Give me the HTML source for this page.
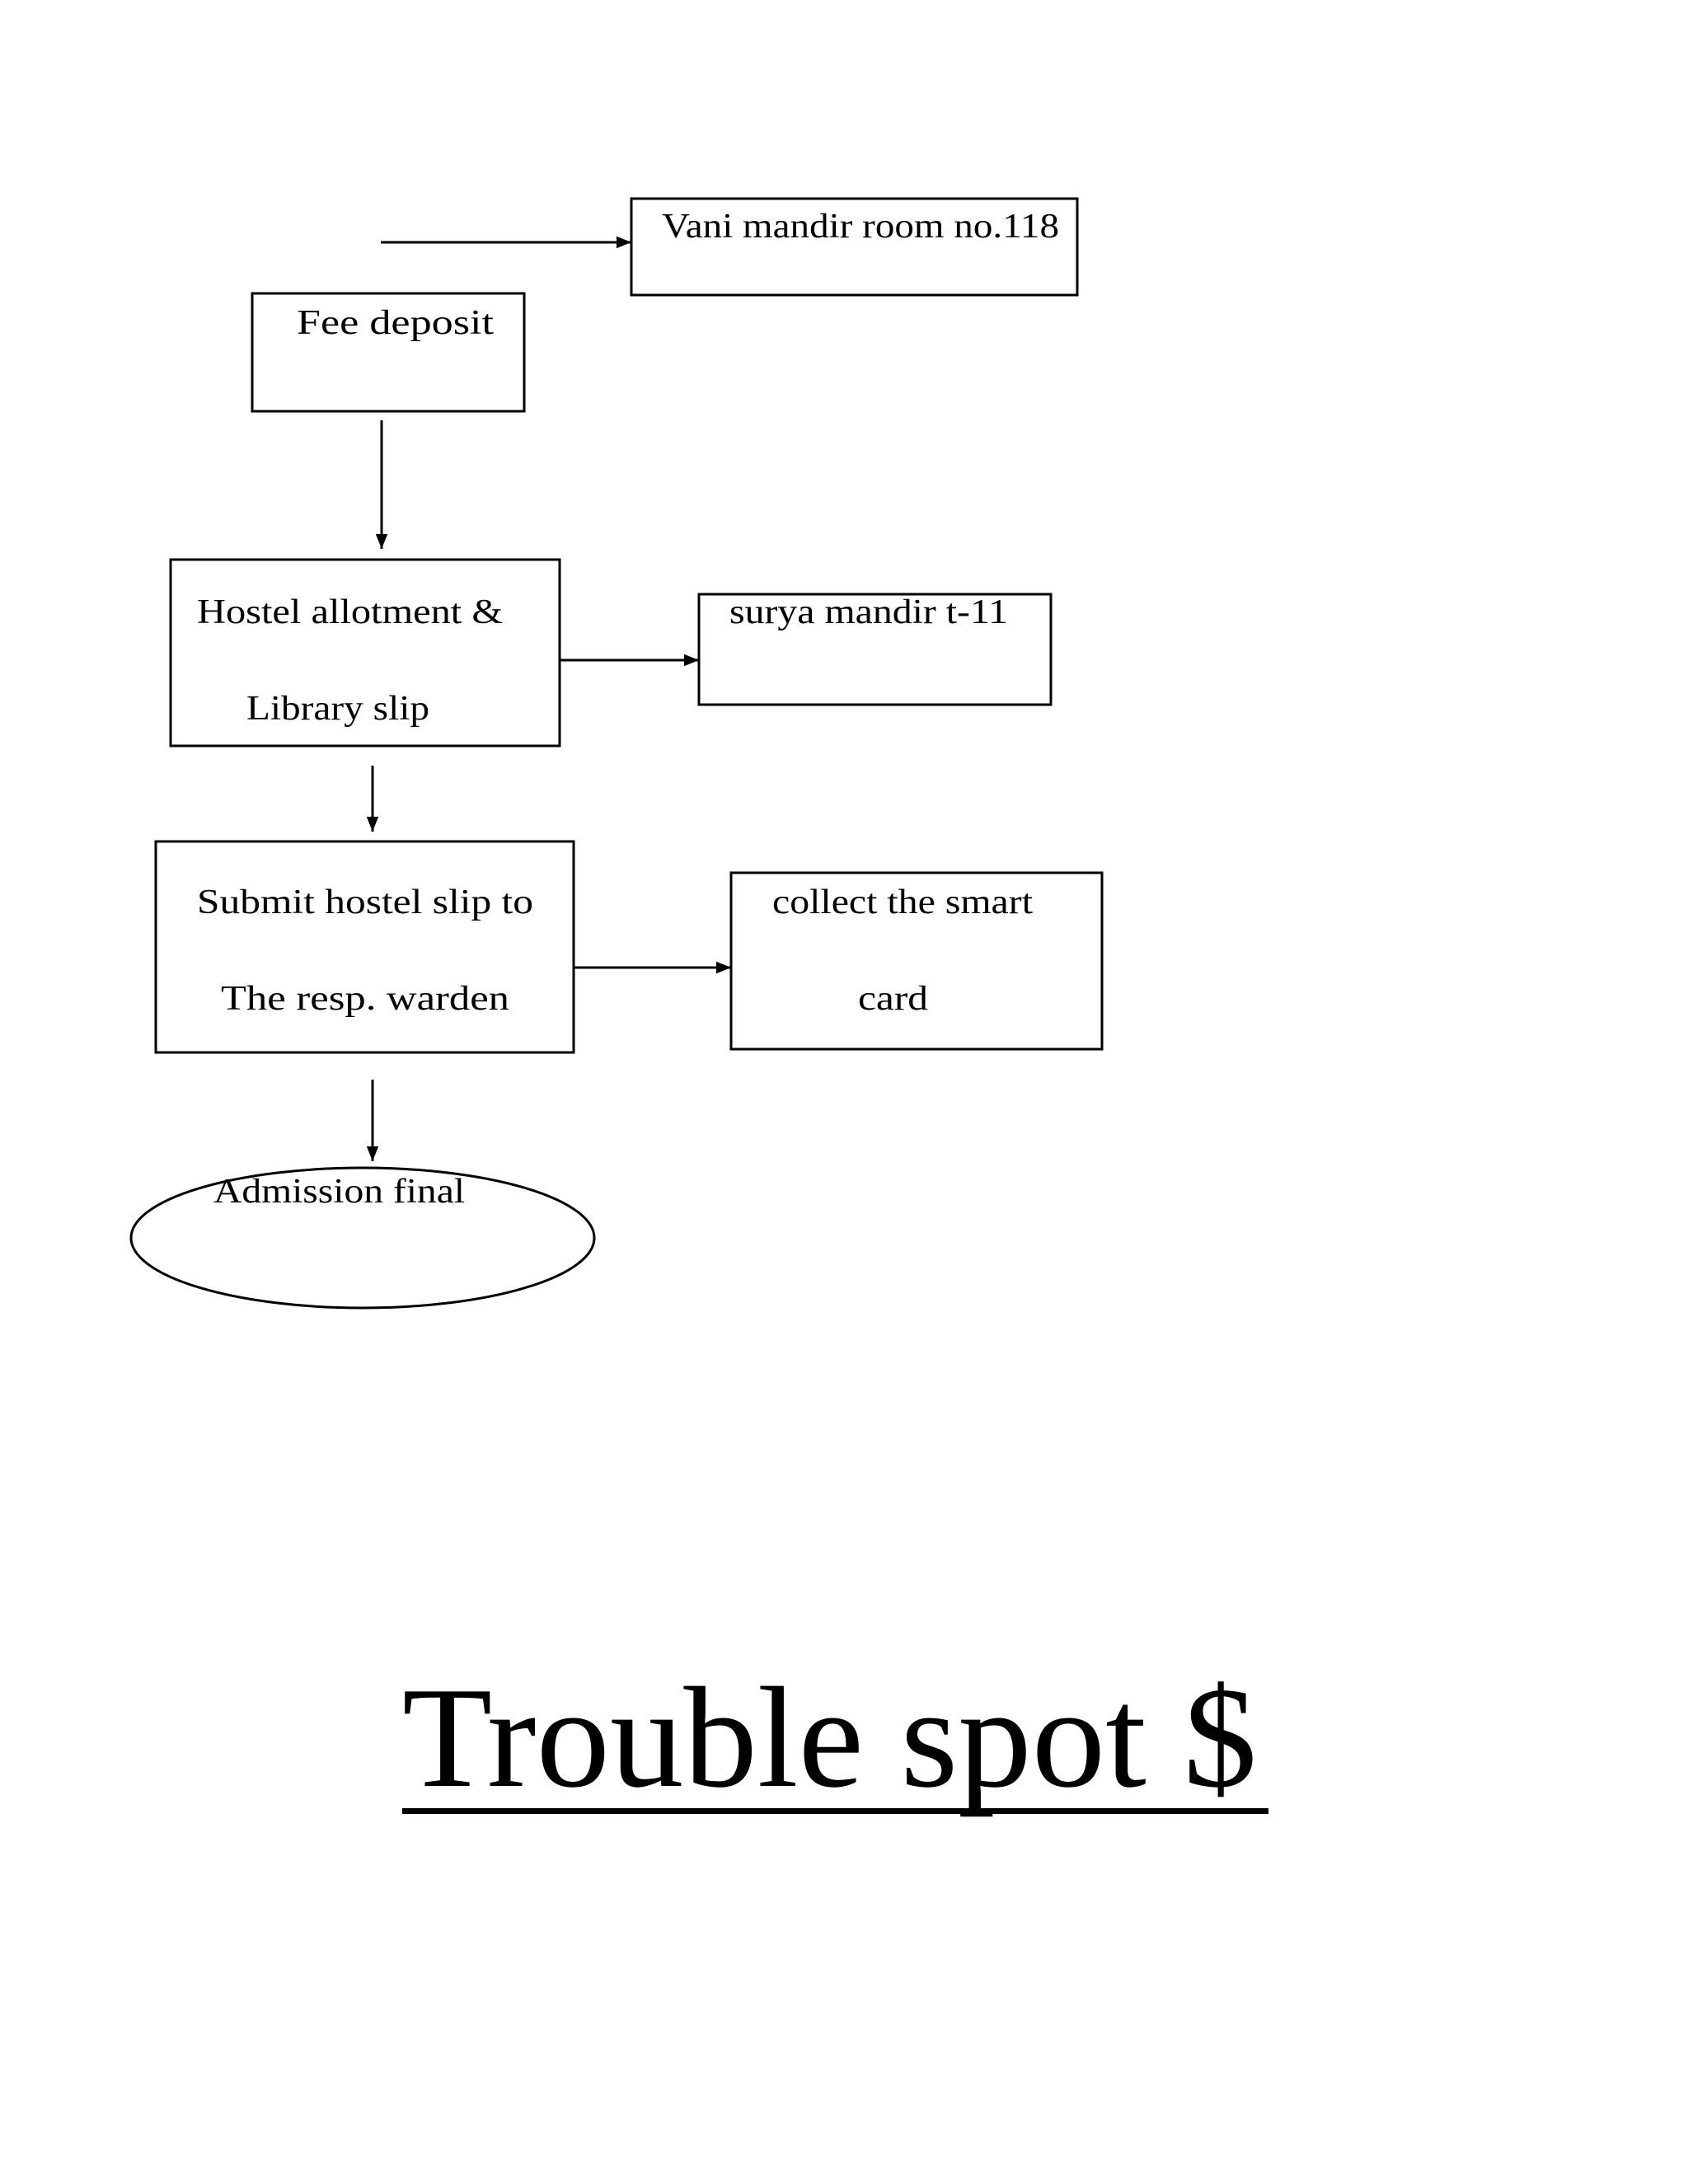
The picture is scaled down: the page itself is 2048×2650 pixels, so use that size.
<!DOCTYPE html>
<html><head><meta charset="utf-8"><style>html,body{margin:0;padding:0;background:#fff}svg{display:block}</style></head>
<body>
<svg width="2048" height="2650" viewBox="0 0 2048 2650" xmlns="http://www.w3.org/2000/svg">
<defs>
<marker id="b" viewBox="0 0 10 10" markerWidth="18" markerHeight="18" refX="10" refY="5" orient="auto" markerUnits="userSpaceOnUse"><path d="M0,1 L10,5 L0,9 z"/></marker></defs>
<g fill="none" stroke="#000" stroke-width="3">
<rect x="766" y="241" width="541" height="117"/>
<rect x="306" y="356" width="330" height="143"/>
<rect x="207" y="679" width="472" height="226"/>
<rect x="848" y="721" width="427" height="134"/>
<rect x="189" y="1021" width="507" height="256"/>
<rect x="887" y="1059" width="450" height="214"/>
<ellipse cx="440" cy="1502" rx="281" ry="85"/>
<line x1="462" y1="294" x2="766" y2="294" marker-end="url(#b)"/>
<line x1="463" y1="510" x2="463" y2="666" marker-end="url(#b)"/>
<line x1="679" y1="801" x2="848" y2="801" marker-end="url(#b)"/>
<line x1="452" y1="929" x2="452" y2="1009" marker-end="url(#b)"/>
<line x1="696" y1="1174" x2="887" y2="1174" marker-end="url(#b)"/>
<line x1="452" y1="1310" x2="452" y2="1409" marker-end="url(#b)"/>
</g>
<g font-family="Liberation Serif, serif" font-size="42" fill="#000">
<text x="803" y="288" textLength="482" lengthAdjust="spacingAndGlyphs">Vani mandir room no.118</text>
<text x="360" y="405" textLength="239" lengthAdjust="spacingAndGlyphs">Fee deposit</text>
<text x="239" y="756" textLength="371" lengthAdjust="spacingAndGlyphs">Hostel allotment &amp;</text>
<text x="299" y="873" textLength="222" lengthAdjust="spacingAndGlyphs">Library slip</text>
<text x="885" y="756" textLength="338" lengthAdjust="spacingAndGlyphs">surya mandir t-11</text>
<text x="239" y="1108" textLength="408" lengthAdjust="spacingAndGlyphs">Submit hostel slip to</text>
<text x="268" y="1225" textLength="350" lengthAdjust="spacingAndGlyphs">The resp. warden</text>
<text x="937" y="1108" textLength="316" lengthAdjust="spacingAndGlyphs">collect the smart</text>
<text x="1041" y="1225" textLength="85" lengthAdjust="spacingAndGlyphs">card</text>
<text x="259" y="1459" textLength="305" lengthAdjust="spacingAndGlyphs">Admission final</text>
</g>
<text x="488" y="2167" font-family="Liberation Serif, serif" font-size="175" textLength="1037" lengthAdjust="spacingAndGlyphs">Trouble spot $</text>
<rect x="488" y="2194" width="1051" height="7" fill="#000"/>
</svg>
</body></html>
